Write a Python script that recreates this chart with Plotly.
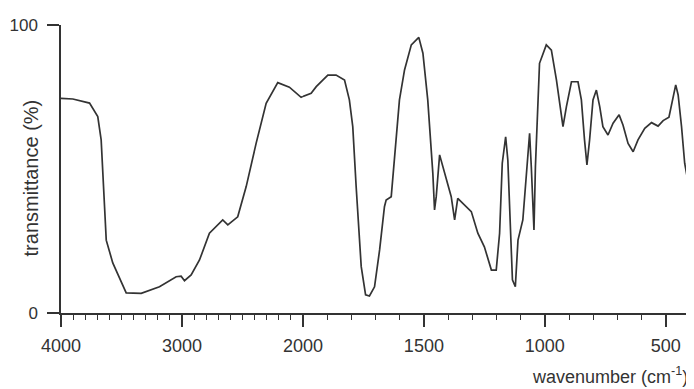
import plotly.graph_objects as go

# IR spectrum (wavenumber in cm^-1, transmittance in %)
WAVENUMBER = [4000, 3902, 3764, 3696, 3668, 3655, 3640, 3626, 3572, 3461,
              3337, 3186, 3048, 3007, 2979, 2924, 2855, 2773, 2663, 2621,
              2539, 2469, 2387, 2304, 2208, 2112, 2015, 2000, 1966, 1945,
              1897, 1863, 1828, 1808, 1794, 1780, 1759, 1741, 1725, 1704,
              1683, 1663, 1656, 1635, 1621, 1601, 1580, 1552, 1521, 1504,
              1484, 1470, 1463, 1456, 1449, 1435, 1422, 1401, 1387, 1373,
              1360, 1304, 1277, 1250, 1221, 1201, 1187, 1176, 1162, 1153,
              1143, 1134, 1122, 1111, 1091, 1077, 1063, 1056, 1049, 1045,
              1039, 1033, 1022, 994, 973, 952, 925, 911, 890, 863,
              849, 836, 826, 815, 801, 787, 773, 760, 739, 718,
              693, 677, 656, 635, 615, 587, 559, 532, 511, 487,
              470, 459, 449, 435, 422, 408, 400]
TRANSMITTANCE = [74.5, 74.3, 72.9, 68.2, 60.1, 50.8, 36.9, 25.3, 17.4, 7.0,
                 6.8, 9.1, 12.6, 12.8, 11.2, 13.2, 18.4, 27.7, 32.3, 30.6,
                 33.4, 43.9, 58.9, 72.8, 80.0, 78.4, 74.9, 75.2, 76.3, 78.6,
                 82.6, 82.6, 80.9, 74.0, 64.7, 43.9, 16.1, 6.3, 5.9, 9.1,
                 21.9, 36.9, 39.2, 40.4, 53.1, 74.0, 84.4, 93.1, 95.7, 90.2,
                 74.0, 58.9, 48.5, 35.8, 40.4, 54.9, 50.8, 43.9, 40.4, 32.3,
                 39.8, 35.2, 27.7, 23.0, 14.9, 14.9, 27.7, 52.0, 61.2, 53.1,
                 27.7, 11.5, 9.1, 25.3, 32.3, 48.5, 62.4, 50.8, 39.2, 28.8,
                 50.8, 64.7, 86.7, 93.1, 91.3, 80.9, 64.7, 71.6, 80.3, 80.3,
                 74.0, 60.1, 51.4, 60.1, 74.0, 77.4, 71.6, 64.7, 61.8, 65.9,
                 68.8, 65.3, 58.9, 56.0, 60.1, 64.1, 66.1, 64.9, 66.8, 68.0,
                 75.1, 79.2, 75.7, 64.7, 52.0, 45.6, 45.2]

HIGH_TICKS = [4000, 3000, 2000]
LOW_TICKS = [1500, 1000, 500]
Y_TICKS = [0, 100]
X_TITLE = "wavenumber (cm<sup>-1</sup>)"
Y_TITLE = "transmittance (%)"

INK = "#333333"
FONT = "Liberation Sans, Arial, sans-serif"

hi = [(w, t) for w, t in zip(WAVENUMBER, TRANSMITTANCE) if w >= 2000]
lo = [(w, t) for w, t in zip(WAVENUMBER, TRANSMITTANCE) if w <= 2000]

fig = go.Figure()
fig.add_trace(go.Scatter(x=[p[0] for p in hi], y=[p[1] for p in hi],
                         mode="lines", line=dict(color=INK, width=1.7),
                         xaxis="x", yaxis="y", showlegend=False))
fig.add_trace(go.Scatter(x=[p[0] for p in lo], y=[p[1] for p in lo],
                         mode="lines", line=dict(color=INK, width=1.7),
                         xaxis="x2", yaxis="y", showlegend=False))

# split scale: 4000-2000 compressed, 2000-400 expanded 2x
w_hi = 2000.0
w_lo = 1600.0 * 2
d = w_hi / (w_hi + w_lo)

axis_common = dict(showline=True, linecolor=INK, linewidth=1.5, ticks="outside",
                   ticklen=12, tickwidth=1.5, tickcolor=INK, showgrid=False,
                   zeroline=False, automargin=False,
                   tickfont=dict(family=FONT, size=18, color=INK),
                   ticklabelstandoff=4)

# the page body has an 8px margin, so the figure is sized to the remaining window
fig.update_layout(
    width=686, height=381,
    margin=dict(l=53, r=4, t=17, b=76),
    paper_bgcolor="white", plot_bgcolor="white",
    font=dict(family=FONT, color=INK),
    xaxis=dict(domain=[0, d], range=[4000, 2000], tickmode="array",
               tickvals=HIGH_TICKS, ticktext=[str(v) for v in HIGH_TICKS],
               anchor="y",
               minor=dict(tickmode="array",
                          tickvals=list(range(3900, 2000, -100)),
                          ticks="outside", ticklen=5, tickwidth=1.3, tickcolor=INK),
               **axis_common),
    xaxis2=dict(domain=[d, 1], range=[2000, 400], tickmode="array",
                tickvals=LOW_TICKS, ticktext=[str(v) for v in LOW_TICKS],
                anchor="y",
                minor=dict(tickmode="array",
                           tickvals=[v for v in range(1900, 400, -100) if v not in LOW_TICKS],
                           ticks="outside", ticklen=5, tickwidth=1.3, tickcolor=INK),
                **axis_common),
    yaxis=dict(range=[0, 100], tickmode="array", tickvals=Y_TICKS,
               ticktext=[str(v) for v in Y_TICKS], anchor="x",
               **{**axis_common, "ticklen": 12, "ticklabelstandoff": 6,
                  "tickfont": dict(family=FONT, size=17, color=INK)}),
    annotations=[
        dict(text=X_TITLE, xref="paper", yref="paper", x=1.0, y=-0.17,
             xanchor="right", yanchor="top", showarrow=False,
             font=dict(family=FONT, size=18, color=INK)),
        dict(text=Y_TITLE, xref="paper", yref="paper", x=-0.048, y=0.47,
             xanchor="center", yanchor="middle", textangle=-90, showarrow=False,
             font=dict(family=FONT, size=20, color=INK)),
    ],
)

fig.write_html("out.html")
